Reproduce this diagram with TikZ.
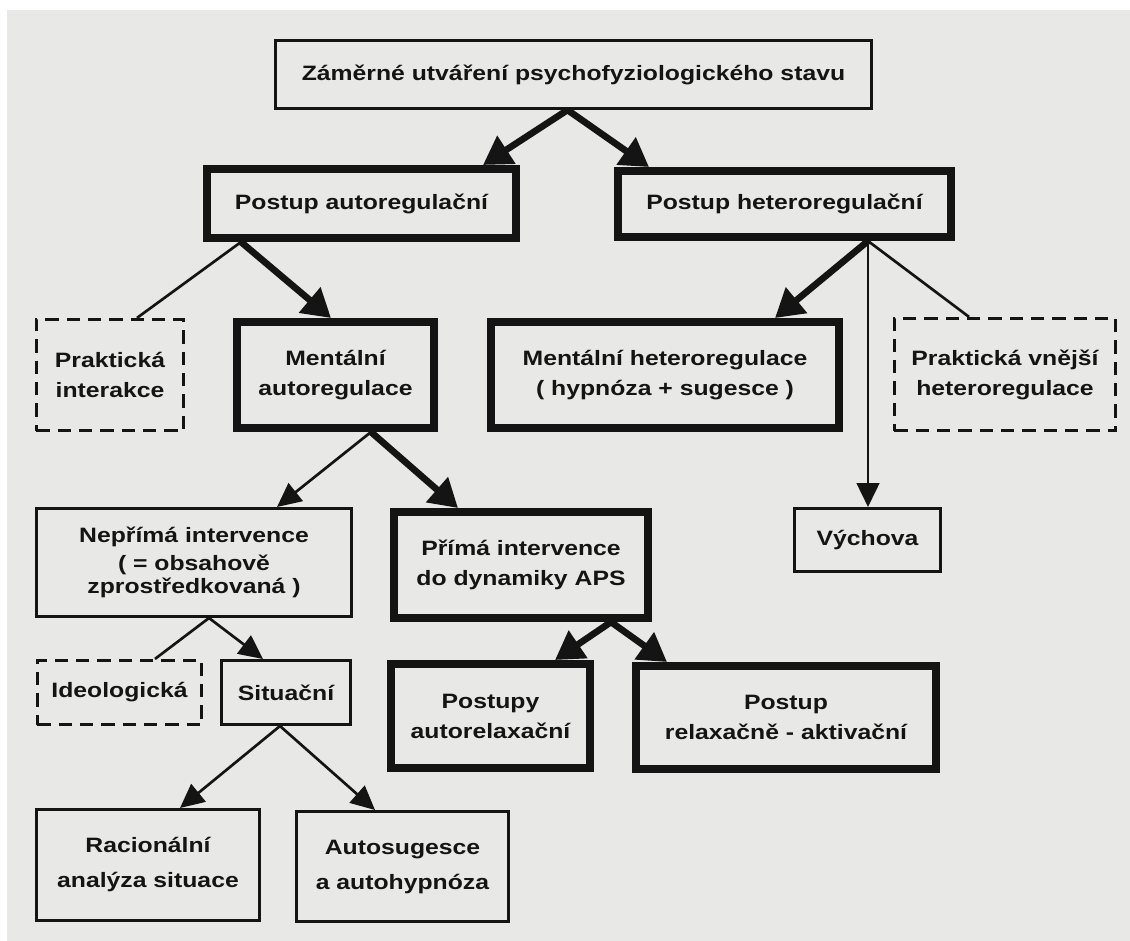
\documentclass[tikz,border=0pt]{standalone}
\usepackage{fontspec}
\setmainfont{Liberation Sans}[FakeStretch=1.19]
\usetikzlibrary{arrows.meta,calc}
\definecolor{page}{RGB}{232,232,230}
\definecolor{ink}{RGB}{20,20,20}
\begin{document}
\begin{tikzpicture}[x=0.75pt,y=-0.75pt,
  base/.style={align=center, inner sep=0pt, text=ink,
    font=\bfseries\fontsize{15.6}{22.5}\selectfont},
  wh/.style 2 args={minimum width=#1*0.75pt, minimum height=#2*0.75pt},
  thinbox/.style={base, draw=ink, line width=2.25pt},
  thickbox/.style={base, draw=ink, line width=6pt},
  dashbox/.style={base, draw=ink, line width=2pt, dash pattern=on 10pt off 6pt},
  thickarrow/.style={draw=ink, line width=5pt, -{Triangle[length=21pt,width=24pt]}},
  thinarrow/.style={draw=ink, line width=2pt, -{Triangle[length=18pt,width=17pt]}},
  thinline/.style={draw=ink, line width=2pt}]
\useasboundingbox (0,0) rectangle (1130,941);
\fill[white] (0,0) rectangle (1130,941);
\fill[page] (7,10) rectangle (1130,941);

% nodes
\node[thinbox, wh={596}{68}] (top) at (573.5,74.5) {Záměrné utváření psychofyziologického stavu};
\node[thickbox, wh={309}{69}] (pa) at (361.5,203.5) {Postup autoregulační};
\node[thickbox, wh={333}{66}] (ph) at (784.5,204) {Postup heteroregulační};
\node[dashbox, wh={147.5}{111.5}] (pi) at (110,375) {Praktická\\interakce};
\node[thickbox, wh={197}{106}] (ma) at (335.5,375) {Mentální\\autoregulace};
\node[thickbox, wh={348}{106}] (mh) at (665,375) {Mentální heteroregulace\\( hypnóza + sugesce )};
\node[dashbox, wh={221.5}{112.5}] (pv) at (1005,374.5) {Praktická vnější\\heteroregulace};
\node[thinbox, wh={146}{63}] (vy) at (867.5,540) {Výchova};
\node[thinbox, wh={315}{108}] (ni) at (194,562.5) {Nepřímá intervence\\[-1.5pt]( = obsahově\\[-5pt]zprostředkovaná )};
\node[thickbox, wh={254}{106}] (pr) at (521,565) {Přímá intervence\\do dynamiky APS};
\node[dashbox, wh={164.5}{64.5}] (id) at (119.5,692.5) {Ideologická};
\node[thinbox, wh={129}{64}] (si) at (286,692.5) {Situační};
\node[thickbox, wh={199}{104}] (pu) at (490.5,716) {Postupy\\autorelaxační};
\node[thickbox, wh={300}{103}] (pra) at (786,717.5) {Postup\\relaxačně - aktivační};
\node[thinbox, wh={223}{111}] (ra) at (148,865) {Racionální\\[3.75pt]analýza situace};
\node[thinbox, wh={212}{110}] (au) at (402.5,866.5) {Autosugesce\\[3.75pt]a autohypnóza};

% branch points
\coordinate (t0) at ($(top.south)+(-6,0)$);
\coordinate (a0) at ($(pa.south)+(-120.5,0)$);
\coordinate (h0) at ($(ph.south)+(83.5,0)$);
\coordinate (m0) at ($(ma.south)+(35.5,0)$);
\coordinate (n0) at ($(ni.south)+(15,0)$);
\coordinate (p0) at ($(pr.south)+(90,0)$);
\coordinate (s0) at ($(si.south)+(-6,0)$);

% connectors
\draw[thickarrow] (t0) -- ($(pa.north)+(121.5,0)$);
\draw[thickarrow] (t0) -- ($(ph.north)+(-135.5,0)$);

\draw[thinline] (a0) -- ($(pi.north)+(27,0)$);
\draw[thickarrow] (a0) -- ($(ma.north)+(-4.5,0)$);

\draw[thickarrow] (h0) -- ($(mh.north)+(110,0)$);
\draw[thinarrow] (h0) -- ($(vy.north)+(0.5,0)$);
\draw[thinline] (h0) -- ($(pv.north)+(-36,0)$);

\draw[thinarrow] (m0) -- ($(ni.north)+(83,0)$);
\draw[thickarrow] (m0) -- ($(pr.north)+(-63,0)$);

\draw[thinline] (n0) -- ($(id.north)+(35.5,0)$);
\draw[thinarrow] (n0) -- ($(si.north)+(-23,0)$);

\draw[thickarrow] (p0) -- ($(pu.north)+(64.5,0)$);
\draw[thickarrow] (p0) -- ($(pra.north)+(-119,0)$);

\draw[thinarrow] (s0) -- ($(ra.north)+(32,0)$);
\draw[thinarrow] (s0) -- ($(au.north)+(-27.5,0)$);
\end{tikzpicture}
\end{document}
